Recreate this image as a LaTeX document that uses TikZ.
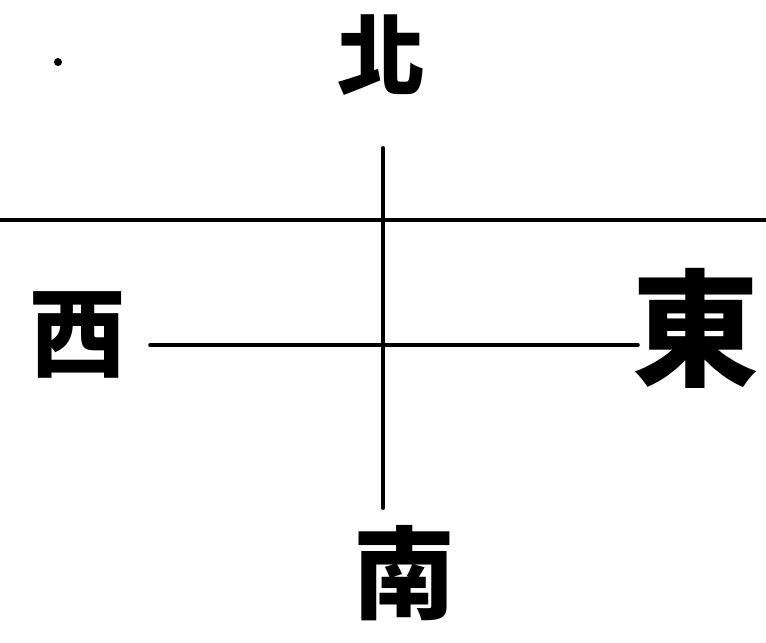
\documentclass[tikz,border=0pt]{standalone}
\usepackage{fontspec}
\newfontfamily\cjk{Noto Sans CJK TC}
\usepackage{tikz}
\usetikzlibrary{positioning}

\begin{document}
\begin{tikzpicture}[x=0.02cm,y=-0.02cm,
  dir/.style={inner sep=0pt,font=\cjk\bfseries},
  stroke/.style={line width=2.2pt,line cap=round}]
\useasboundingbox (0,0) rectangle (766,642);
\fill (58,62) circle (4);
\node[dir,font=\cjk\bfseries\fontsize{50}{50}\selectfont] (north) at (381,55) {北};
\node[dir,font=\cjk\bfseries\fontsize{55}{55}\selectfont] (west) at (78,335) {西};
\node[dir,font=\cjk\bfseries\fontsize{72}{72}\selectfont] (east) at (696,328) {東};
\node[dir,font=\cjk\bfseries\fontsize{58}{58}\selectfont] (south) at (404,573) {南};
\coordinate (horL) at (0,220);
\coordinate (horR) at (766,220);
\coordinate (top) at (383,148);
\coordinate (bot) at (383,508);
\coordinate (midL) at (150,345);
\coordinate (midR) at (638,345);
\draw[stroke,line width=2.6pt,line cap=butt] (horL) -- (horR);
\draw[stroke] (top) -- (bot);
\draw[stroke,line width=2pt] (midL) -- (midR);
\end{tikzpicture}
\end{document}
